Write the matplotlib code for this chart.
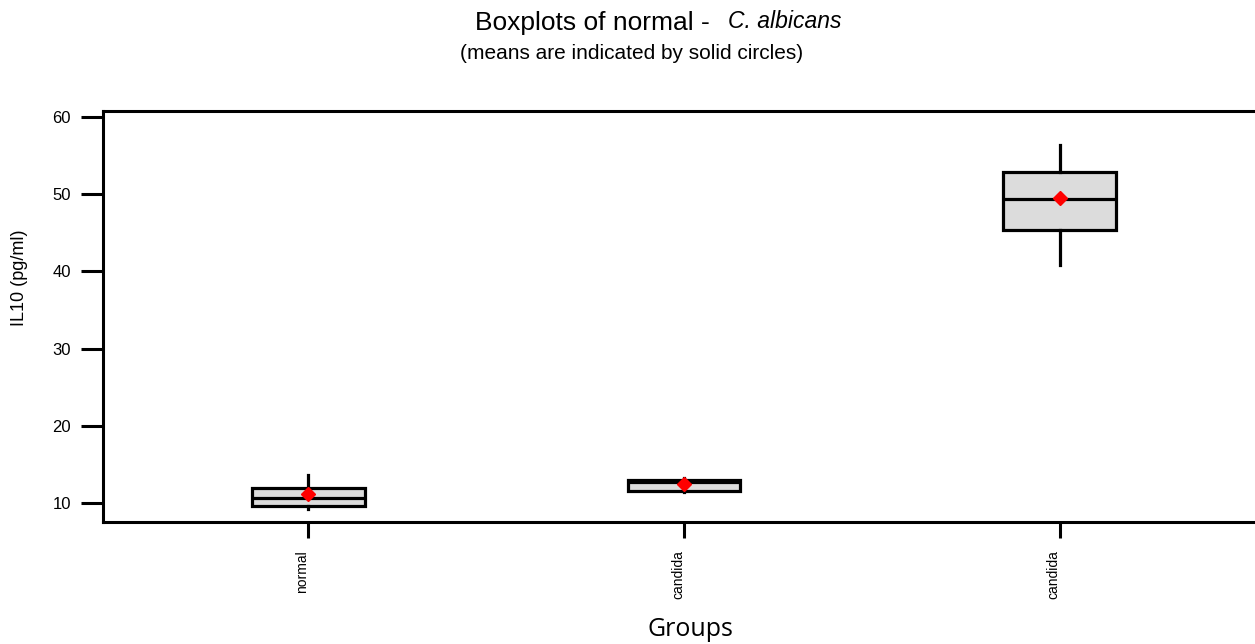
import matplotlib
matplotlib.use("Agg")
import matplotlib.pyplot as plt
import matplotlib.transforms as mtransforms

plt.rcParams['font.family'] = ['Liberation Sans', 'DejaVu Sans']

# Group labels and summary statistics of IL10 (pg/ml)
groups = ["normal", "candida", "candida"]
whisker_low = [9.2, 11.4, 40.8]
q1 = [9.6, 11.6, 45.4]
median = [10.65, 12.75, 49.4]
q3 = [11.95, 13.05, 52.8]
whisker_high = [13.6, 13.3, 56.4]
means = [11.15, 12.45, 49.5]

yticks = [10, 20, 30, 40, 50, 60]

W, H = 1255, 644
fig = plt.figure(figsize=(W / 100, H / 100), dpi=100)
ax = fig.add_axes([103 / W, 1 - 522 / H, 1162 / W, 411 / H])

positions = list(range(1, len(groups) + 1))
stats = []
for g, lo, a, m, b, hi, mu in zip(groups, whisker_low, q1, median, q3, whisker_high, means):
    stats.append(dict(label=g, whislo=lo, q1=a, med=m, q3=b, whishi=hi, mean=mu, fliers=[]))

lw = 2.3
ax.bxp(stats, positions=positions, widths=0.30, patch_artist=True,
       showcaps=False, showfliers=False, showmeans=False,
       boxprops=dict(facecolor="#dcdcdc", edgecolor="black", linewidth=lw),
       whiskerprops=dict(color="black", linewidth=lw),
       medianprops=dict(color="black", linewidth=lw))
ax.plot(positions, means, linestyle="none", marker="D", markersize=7,
        color="red", markeredgecolor="red", zorder=5)

ax.set_xlim(0.453, 3.547)
ax.set_ylim(7.55, 60.75)
ax.set_yticks(yticks)
ax.set_xticks(positions)
ax.set_xticklabels(groups, rotation=90, fontsize=10)
ax.tick_params(axis="y", direction="out", length=16, width=2.2, labelsize=12, pad=7)
ax.tick_params(axis="x", direction="out", length=11.5, width=2.2, pad=9)
for lab in ax.get_xticklabels():
    lab.set_transform(lab.get_transform() +
                      mtransforms.ScaledTranslation(-6 / 100, 0, fig.dpi_scale_trans))
for side in ["left", "top", "bottom"]:
    ax.spines[side].set_linewidth(2.2)
ax.spines["right"].set_visible(False)

fig.text(20 / W, 1 - 278 / H, "IL10 (pg/ml)", rotation=90, ha="center", va="center",
         fontsize=13)
fig.text(690 / W, 1 - 636 / H, "Groups", ha="center", va="baseline",
         fontsize=18, family=["Open Sans", "DejaVu Sans"])

fig.text(710 / W, 1 - 30 / H, "Boxplots of normal -", ha="right", va="baseline", fontsize=19)
fig.text(728 / W, 1 - 28 / H, "C. albicans", ha="left", va="baseline",
         fontsize=16.5, style="italic")
fig.text(632 / W, 1 - 59 / H, "(means are indicated by solid circles)",
         ha="center", va="baseline", fontsize=15)

fig.savefig("out.png", dpi=100)
